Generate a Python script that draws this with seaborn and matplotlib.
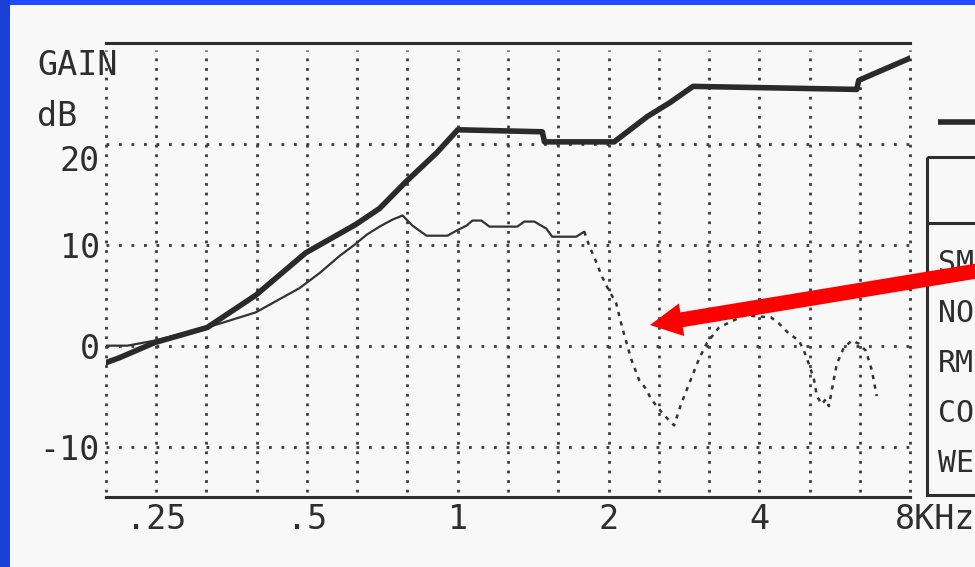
import matplotlib
matplotlib.use("Agg")
import matplotlib.pyplot as plt
import matplotlib.transforms as mtransforms
from matplotlib.patches import Rectangle, FancyArrow
import seaborn as sns
import pandas as pd

# ---- data -------------------------------------------------------------
# prescribed target gain (thick curve)
target_khz = [0.198, 0.211, 0.248, 0.316, 0.395, 0.497, 0.625, 0.698, 0.790,
              0.907, 1.0, 1.475, 1.49, 2.053, 2.389, 2.654, 2.95, 6.263,
              6.32, 8.0]
target_db = [-1.7, -1.2, 0.3, 1.8, 5.0, 9.2, 12.0, 13.6, 16.3,
             19.1, 21.4, 21.2, 20.2, 20.2, 22.7, 24.1, 25.7, 25.4,
             26.3, 28.5]

# measured real-ear gain, continuous part
measured_khz = [0.198, 0.219, 0.248, 0.316, 0.395, 0.483, 0.530, 0.581,
                0.622, 0.658, 0.698, 0.741, 0.776, 0.812, 0.866, 0.954,
                0.994, 1.041, 1.070, 1.115, 1.157, 1.315, 1.358, 1.422,
                1.503, 1.544, 1.724, 1.789]
measured_db = [0.0, 0.0, 0.5, 1.8, 3.3, 5.7, 7.2, 8.9,
               10.0, 11.0, 11.8, 12.5, 12.9, 11.9, 10.9, 10.9,
               11.4, 11.9, 12.4, 12.4, 11.8, 11.8, 12.3, 12.3,
               11.6, 10.8, 10.8, 11.3]

# measured gain above ~1.8 kHz (broken trace)
tail_khz = [1.789, 1.830, 1.890, 1.943, 1.988, 2.072, 2.130, 2.219, 2.302,
            2.378, 2.433, 2.583, 2.704, 2.792, 2.896, 3.033, 3.147, 3.324,
            3.729, 4.222, 4.380, 4.585, 4.800, 4.911, 5.025, 5.142, 5.213,
            5.333, 5.433, 5.509, 5.637, 5.715, 5.901, 6.122, 6.32, 6.529,
            6.710, 6.866]
tail_db = [11.3, 9.9, 8.3, 6.8, 5.8, 4.2, 1.8, -1.3, -3.4,
           -4.3, -5.3, -6.9, -7.9, -5.8, -3.8, -1.3, 0.3, 1.8,
           3.0, 2.8, 2.2, 1.2, 0.5, -0.5, -1.8, -3.3, -5.0,
           -5.8, -5.3, -6.0, -3.3, -1.8, -0.2, 0.5, 0.2, -0.5,
           -2.4, -5.0]

x_ticks = [0.25, 0.5, 1, 2, 4, 8]
x_labels = [".25", ".5", "1", "2", "4", "8KHz"]
y_ticks = [20, 10, 0, -10]
y_labels = ["20", "10", "0", "-10"]
panel_rows = ["SM", "NO", "RM", "CO", "WE"]

# ---- style ------------------------------------------------------------
sns.set_theme(style="white")
plt.rcParams["font.family"] = ["DejaVu Sans Mono", "DejaVu Sans"]
plt.rcParams["lines.scale_dashes"] = False

INK = "#2e2e2e"
DOT = "#3c3c3c"
PAPER = "#f8f8f8"
FS = 24

W, H = 975, 567
fig = plt.figure(figsize=(W / 100, H / 100), dpi=100, facecolor=PAPER)

# blue slide border (top and left edges)
fig.add_artist(Rectangle((0, 1 - 5 / H), 1, 5 / H, transform=fig.transFigure,
                         color="#1f4dfb", lw=0, zorder=0))
fig.add_artist(Rectangle((0, 0), 10 / W, 1, transform=fig.transFigure,
                         color="#1c3fd8", lw=0, zorder=0))

# ---- main chart -------------------------------------------------------
L, R, T, B = 106, 910, 43, 497
ax = fig.add_axes([L / W, 1 - B / H, (R - L) / W, (B - T) / H])
ax.set_facecolor("none")
ax.set_xscale("log", base=2)
fmin = 0.25 * 2 ** (-1 / 3)
ax.set_xlim(fmin, 8.0)
ax.set_ylim(-15, 30)

for side in ("left", "right"):
    ax.spines[side].set_visible(False)
for side in ("top", "bottom"):
    ax.spines[side].set_visible(True)
    ax.spines[side].set_color(INK)
    ax.spines[side].set_linewidth(2.2)

# dotted 1/3-octave grid
for k in range(17):
    ax.axvline(fmin * 2 ** (k / 3), ymin=0.01, ymax=0.985, color=DOT,
               lw=2.0, linestyle=(0, (2.0, 4.9)), clip_on=False, zorder=1)
for yv in y_ticks:
    ax.axhline(yv, color=DOT, lw=2.0, linestyle=(0, (2.0, 7.0)), zorder=1)

ax.set_xticks([])
ax.set_yticks([])
ax.xaxis.set_minor_locator(matplotlib.ticker.NullLocator())

target = pd.DataFrame({"khz": target_khz, "db": target_db})
measured = pd.DataFrame({"khz": measured_khz, "db": measured_db})
tail = pd.DataFrame({"khz": tail_khz, "db": tail_db})

sns.lineplot(data=target, x="khz", y="db", ax=ax, sort=False, estimator=None,
             color="#2a2a2a", lw=4.0, zorder=4)
sns.lineplot(data=measured, x="khz", y="db", ax=ax, sort=False, estimator=None,
             color="#333333", lw=1.6, zorder=3)
sns.lineplot(data=tail, x="khz", y="db", ax=ax, sort=False, estimator=None,
             color="#333333", lw=1.8, linestyle=(0, (3.0, 4.0)), zorder=3)
ax.set_xlabel("")
ax.set_ylabel("")

# axis labels in plotter lettering
ytrans = ax.get_yaxis_transform()
for yv, lab in zip(y_ticks, y_labels):
    dy = -14 if yv == 20 else 0
    tr = mtransforms.offset_copy(ytrans, fig=fig, x=-6, y=dy, units="dots")
    ax.text(0, yv, lab, transform=tr, ha="right", va="center_baseline",
            fontsize=FS, color=INK)

xtrans = mtransforms.offset_copy(ax.get_xaxis_transform(), fig=fig,
                                 x=0, y=-19, units="dots")
for xv, lab in zip(x_ticks, x_labels):
    if lab.endswith("KHz"):
        tr = mtransforms.offset_copy(ax.get_xaxis_transform(), fig=fig,
                                     x=-15, y=-19, units="dots")
        ax.text(xv, 0, lab, transform=tr, ha="left", va="center_baseline",
                fontsize=FS, color=INK)
    else:
        ax.text(xv, 0, lab, transform=xtrans, ha="center",
                va="center_baseline", fontsize=FS, color=INK)

# ---- page overlay (pixel coordinates) ---------------------------------
ov = fig.add_axes([0, 0, 1, 1], zorder=10)
ov.set_xlim(0, W)
ov.set_ylim(H, 0)
ov.axis("off")
ov.patch.set_alpha(0)

ov.text(37, 62, "GAIN", ha="left", va="center_baseline", fontsize=FS,
        color=INK)
ov.text(37, 113, "dB", ha="left", va="center_baseline", fontsize=FS,
        color=INK)

# legend swatch and settings panel on the right
ov.plot([938, 990], [122, 122], color="#2a2a2a", lw=4.0,
        solid_capstyle="butt")
ov.add_patch(Rectangle((927, 157), 80, 338, fill=False, ec=INK, lw=2.2))
ov.plot([927, 990], [223, 223], color=INK, lw=2.2)
for i, lab in enumerate(panel_rows):
    ov.text(938, 260 + 50 * i, lab, ha="left", va="center_baseline",
            fontsize=21.5, color=INK)

# red call-out arrow
ov.add_patch(FancyArrow(992, 268.5, -342, 56.5, width=15, head_width=33,
                        head_length=32, length_includes_head=True,
                        color="#ff0000", lw=0, zorder=20))

fig.savefig("out.png", dpi=100, facecolor=PAPER)
